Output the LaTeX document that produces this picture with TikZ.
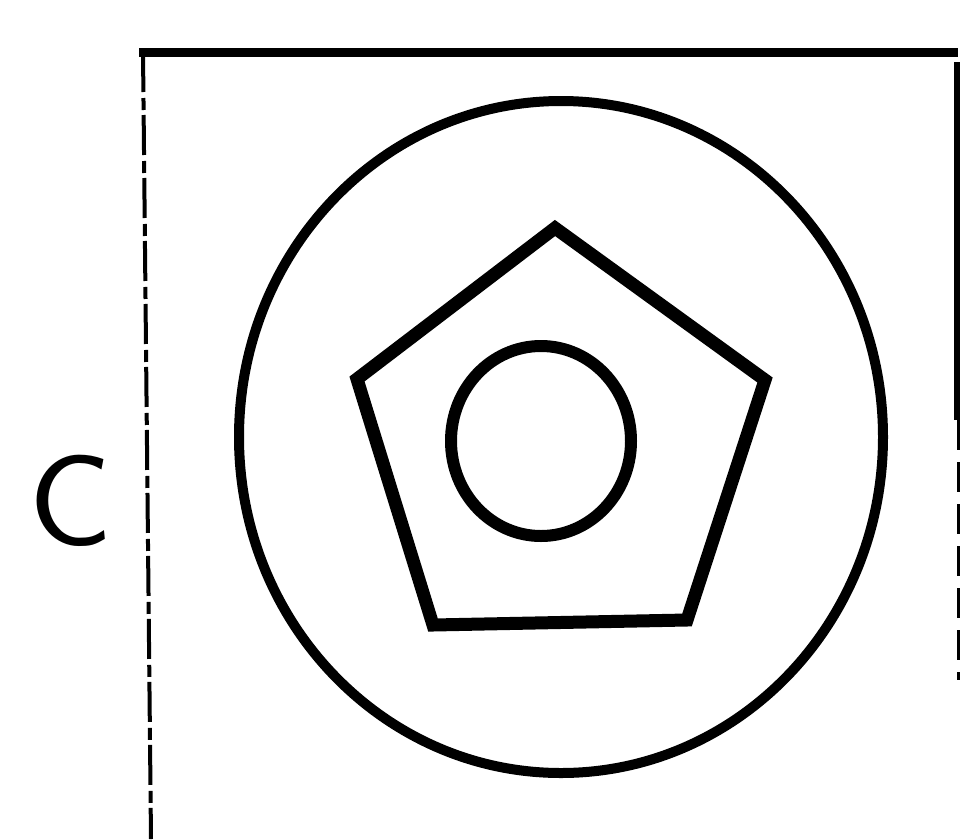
\documentclass[tikz,border=0pt]{standalone}
\begin{document}
\begin{tikzpicture}[x=1pt,y=-1pt,
  frame/.style={line width=9pt},
  thinedge/.style={line width=4pt,dash pattern=on 40pt off 6pt on 12pt off 5pt},
  ring/.style={line width=10pt},
  pent/.style={line width=13pt,line join=miter},
  hole/.style={line width=12pt}]
\useasboundingbox (0,0) rectangle (961,839);
\fill[white] (0,0) rectangle (961,839);
% frame
\draw[frame] (139,52) -- (958,52);
\draw[thinedge] (143,52) -- (151,839);
\draw[line width=6pt] (957,62) -- (957,420);
\draw[line width=3pt,dash pattern=on 30pt off 12pt] (958,420) -- (958,680);
% label
\node[font=\sffamily\fontsize{130}{130}\selectfont,xscale=1.08,inner sep=0] (lab) at (71,501) {C};
% outer circle
\draw[ring] (561,437) ellipse [x radius=322, y radius=336];
% pentagon
\draw[pent] (555,228) -- (765,380) -- (687,620) -- (433,625) -- (357,379) -- cycle;
% inner circle
\draw[hole] (541,441) ellipse [x radius=90, y radius=95];
\end{tikzpicture}
\end{document}
